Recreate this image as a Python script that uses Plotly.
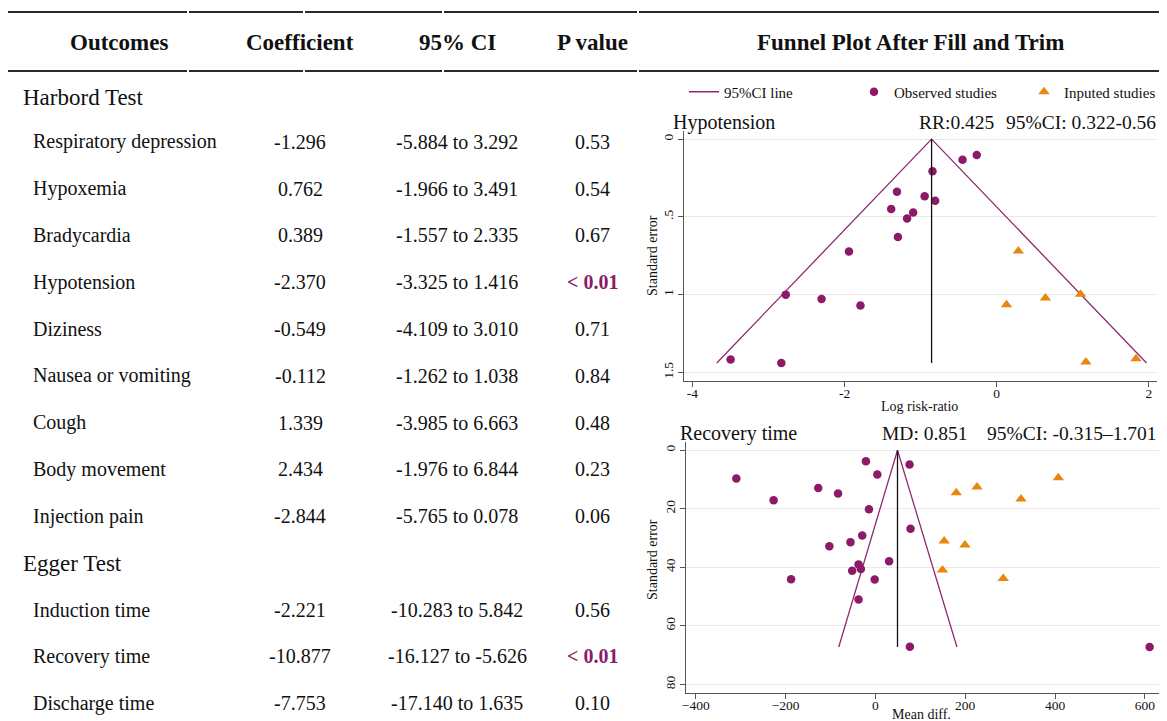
import plotly.graph_objects as go

# ---------------- Table data ----------------
harbord_outcomes = ["Respiratory depression", "Hypoxemia", "Bradycardia", "Hypotension", "Diziness",
                    "Nausea or vomiting", "Cough", "Body movement", "Injection pain"]
harbord_coef = ["-1.296", "0.762", "0.389", "-2.370", "-0.549", "-0.112", "1.339", "2.434", "-2.844"]
harbord_ci = ["-5.884 to 3.292", "-1.966 to 3.491", "-1.557 to 2.335", "-3.325 to 1.416", "-4.109 to 3.010",
              "-1.262 to 1.038", "-3.985 to 6.663", "-1.976 to 6.844", "-5.765 to 0.078"]
harbord_p = ["0.53", "0.54", "0.67", "< 0.01", "0.71", "0.84", "0.48", "0.23", "0.06"]

egger_outcomes = ["Induction time", "Recovery time", "Discharge time"]
egger_coef = ["-2.221", "-10.877", "-7.753"]
egger_ci = ["-10.283 to 5.842", "-16.127 to -5.626", "-17.140 to 1.635"]
egger_p = ["0.56", "< 0.01", "0.10"]

headers = ["Outcomes", "Coefficient", "95% CI", "P value", "Funnel Plot After Fill and Trim"]

# ---------------- Funnel plot 1: Hypotension ----------------
hyp_obs_x = [-0.449, -0.262, -0.844, -1.311, -0.947, -0.809, -1.387, -1.098, -1.178, -1.298,
             -1.942, -2.773, -2.302, -1.791, -3.498, -2.831]
hyp_obs_se = [0.133, 0.102, 0.207, 0.339, 0.367, 0.396, 0.450, 0.472, 0.511, 0.630,
              0.722, 1.000, 1.028, 1.070, 1.417, 1.439]
hyp_imp_x = [0.284, 0.129, 0.640, 1.102, 1.173, 1.831]
hyp_imp_se = [0.720, 1.065, 1.022, 0.998, 1.433, 1.413]
hyp_funnel_x = [-3.68, -0.856, 1.97]
hyp_funnel_se = [1.44, 0.0, 1.44]
hyp_center_x = [-0.856, -0.856]
hyp_center_se = [0.0, 1.44]

# ---------------- Funnel plot 2: Recovery time ----------------
rec_obs_x = [-21.1, 76.1, 4.3, -309.6, -127.2, -83.1, -226.6, -14.3, 78.3, -29.3, -55.5,
             -102.5, 30.5, -37.5, -32.3, -51.7, -187.7, -1.6, -37.5, 76.8, 610.5]
rec_obs_se = [3.8, 4.9, 8.3, 9.7, 12.9, 14.8, 17.1, 20.2, 26.8, 29.1, 31.4,
              32.8, 37.9, 39.0, 40.6, 41.2, 44.1, 44.2, 51.0, 67.1, 67.2]
rec_imp_x = [407.2, 226.3, 180.0, 324.2, 153.1, 199.4, 149.3, 284.6]
rec_imp_se = [9.4, 12.6, 14.5, 16.7, 31.0, 32.4, 40.9, 43.8]
rec_funnel_x = [-81.6, 49.2, 181.5]
rec_funnel_se = [67.2, 0.0, 67.2]
rec_center_x = [49.2, 49.2]
rec_center_se = [0.0, 67.2]

# ---------------- Styling ----------------
W, H = 1167, 721          # browser window
OFF = 8                   # default body margin of the html page
FW, FH = W - 2 * OFF, H - OFF
FONT = "Liberation Serif, Times New Roman, serif"
PURPLE = "#8C1A69"
LINE_PURPLE = "#8E2A74"
ORANGE = "#E8870E"
TXT = "#111111"


def px(x):
    return (x - OFF) / FW


def py(y):
    return 1 - (y - OFF) / FH


fig = go.Figure()

# Plot 1 traces
fig.add_trace(go.Scatter(x=hyp_funnel_x, y=hyp_funnel_se, mode="lines", name="95%CI line",
                         line=dict(color=LINE_PURPLE, width=1.3), xaxis="x", yaxis="y", showlegend=True))
fig.add_trace(go.Scatter(x=hyp_obs_x, y=hyp_obs_se, mode="markers", name="Observed studies",
                         marker=dict(symbol="circle", size=8.5, color=PURPLE), xaxis="x", yaxis="y"))
fig.add_trace(go.Scatter(x=hyp_imp_x, y=hyp_imp_se, mode="markers", name="Inputed studies",
                         marker=dict(symbol="triangle-up", size=10, color=ORANGE), xaxis="x", yaxis="y"))
fig.add_trace(go.Scatter(x=hyp_center_x, y=hyp_center_se, mode="lines", showlegend=False,
                         line=dict(color="#111111", width=1.3), xaxis="x", yaxis="y"))

# Plot 2 traces
fig.add_trace(go.Scatter(x=rec_funnel_x, y=rec_funnel_se, mode="lines", showlegend=False,
                         line=dict(color=LINE_PURPLE, width=1.3), xaxis="x2", yaxis="y2"))
fig.add_trace(go.Scatter(x=rec_center_x, y=rec_center_se, mode="lines", showlegend=False,
                         line=dict(color="#111111", width=1.3), xaxis="x2", yaxis="y2"))
fig.add_trace(go.Scatter(x=rec_obs_x, y=rec_obs_se, mode="markers", showlegend=False,
                         marker=dict(symbol="circle", size=8.5, color=PURPLE), xaxis="x2", yaxis="y2"))
fig.add_trace(go.Scatter(x=rec_imp_x, y=rec_imp_se, mode="markers", showlegend=False,
                         marker=dict(symbol="triangle-up", size=10, color=ORANGE), xaxis="x2", yaxis="y2"))

axis_common = dict(showline=True, linecolor="#555555", linewidth=1, ticks="outside", ticklen=5,
                   tickcolor="#555555", zeroline=False, tickfont=dict(family=FONT, size=13.5, color=TXT))

fig.update_layout(
    width=FW, height=FH, margin=dict(l=0, r=0, t=0, b=0, autoexpand=False),
    paper_bgcolor="white", plot_bgcolor="white",
    font=dict(family=FONT, color=TXT),
    xaxis=dict(domain=[px(683.9), min(1.0, px(1157.2))], range=[-4.112, 2.11], tickvals=[-4, -2, 0, 2],
               ticktext=["-4", "-2", "0", "2"], anchor="y", showgrid=False, ticklabelstandoff=-5,
               **axis_common),
    yaxis=dict(domain=[py(380.8), py(131)], range=[1.554, -0.052], tickvals=[0, 0.5, 1, 1.5],
               ticktext=["0", ".5", "1", "1.5"], tickangle=-90, anchor="x", showgrid=True,
               gridcolor="#E8E8E8", gridwidth=1, **axis_common),
    xaxis2=dict(domain=[px(686.3), min(1.0, px(1162.3))], range=[-421, 631.4],
                tickvals=[-400, -200, 0, 200, 400, 600], anchor="y2", showgrid=False, ticklabelstandoff=-5,
                **axis_common),
    yaxis2=dict(domain=[py(693.2), py(442)], range=[83.0, -2.8], tickvals=[0, 20, 40, 60, 80],
                tickangle=-90, anchor="x2", showgrid=True, gridcolor="#E8E8E8", gridwidth=1, **axis_common),
    legend=dict(orientation="h", x=px(684), y=py(92), xanchor="left", yanchor="middle",
                font=dict(family=FONT, size=15, color=TXT), bgcolor="rgba(0,0,0,0)",
                entrywidth=125, entrywidthmode="pixels", itemwidth=30),
)

annotations = []


def add_text(text, x, y, size, anchor="center", bold=False, color=TXT, angle=0):
    t = f"<b>{text}</b>" if bold else text
    annotations.append(dict(text=t, x=px(x), y=py(y), xref="paper", yref="paper", showarrow=False,
                            xanchor=anchor, yanchor="middle", textangle=angle,
                            font=dict(family=FONT, size=size, color=color)))


# Table header
header_x = [119, 300, 457, 592, 910]
for h, hx in zip(headers, header_x):
    add_text(h, hx, 43, 23, bold=True)

# Horizontal rules (segments with small gaps like a Word table)
segments = [(8, 187), (189, 303), (305, 442), (444, 637), (639, 1167)]
shapes = []
for yy in (12, 71):
    for x0, x1 in segments:
        shapes.append(dict(type="line", xref="paper", yref="paper", x0=px(x0), x1=px(x1),
                           y0=py(yy), y1=py(yy), line=dict(color="#2a2a2a", width=2)))


def esc(s):
    return s.replace("<", "&lt;")


def add_rows(outcomes, coefs, cis, ps, y0):
    for i, (o, c, ci, p) in enumerate(zip(outcomes, coefs, cis, ps)):
        yy = y0 + i * 46.75
        add_text(o, 31, yy, 20, anchor="left")
        add_text(c, 300, yy, 20)
        add_text(ci, 457, yy, 20)
        if p.startswith("<"):
            add_text(esc(p), 592, yy, 20, bold=True, color=PURPLE)
        else:
            add_text(p, 592, yy, 20)


add_text("Harbord Test", 21, 97, 23, anchor="left")
add_rows(harbord_outcomes, harbord_coef, harbord_ci, harbord_p, 142)
add_text("Egger Test", 21, 563, 23, anchor="left")
add_rows(egger_outcomes, egger_coef, egger_ci, egger_p, 609.5)

# Funnel plot titles
add_text("Hypotension", 671, 123, 20, anchor="left")
add_text("RR:0.425", 917, 123, 19.5, anchor="left")
add_text("95%CI: 0.322-0.56", 1004, 123, 19.5, anchor="left")
add_text("Recovery time", 678, 433, 20, anchor="left")
add_text("MD: 0.851", 880, 433, 19.5, anchor="left")
add_text("95%CI: -0.315\u20131.701", 985, 433, 19.5, anchor="left")

# Axis titles
add_text("Standard error", 652, 256, 14, angle=-90)
add_text("Standard error", 652, 560, 14, angle=-90)
add_text("Log risk-ratio", 919, 406, 14)
add_text("Mean diff.", 921, 714, 14)

fig.update_layout(annotations=annotations, shapes=shapes)

fig.write_html("out.html")
